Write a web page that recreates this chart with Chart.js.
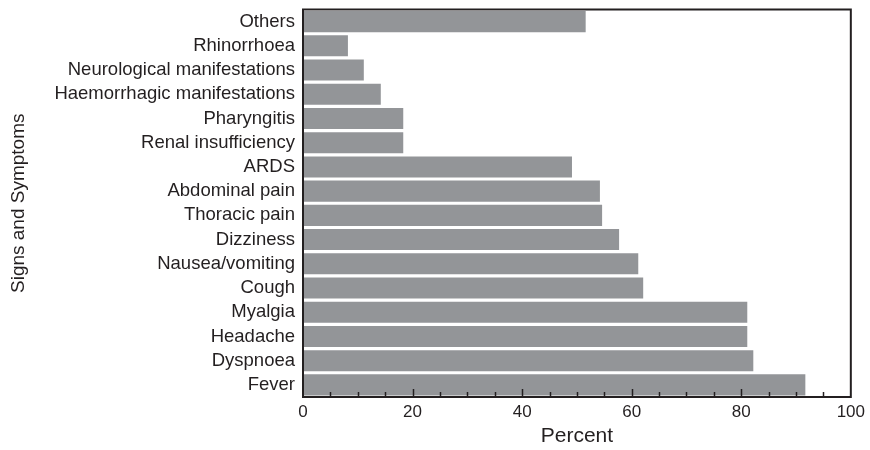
<!DOCTYPE html>
<html>
<head>
<meta charset="utf-8">
<style>
  html, body { margin: 0; padding: 0; background: #fff; }
  #wrap { width: 870px; height: 450px; }
</style>
<script src="https://cdn.jsdelivr.net/npm/chart.js@4/dist/chart.umd.min.js"></script>
</head>
<body>
<div id="wrap"><canvas id="symptomChart" width="870" height="450"></canvas></div>
<script>
// --------------- Data -----------------
const symptoms = [
  "Others", "Rhinorrhoea", "Neurological manifestations", "Haemorrhagic manifestations",
  "Pharyngitis", "Renal insufficiency", "ARDS", "Abdominal pain", "Thoracic pain",
  "Dizziness", "Nausea/vomiting", "Cough", "Myalgia", "Headache", "Dyspnoea", "Fever"
];
const percents = [51.6, 8.2, 11.1, 14.2, 18.3, 18.3, 49.1, 54.2, 54.6, 57.7, 61.2, 62.1, 81.1, 81.1, 82.2, 91.7];
const percentTicks = [0, 20, 40, 60, 80, 100];

const FONT = "'Liberation Sans', Arial, sans-serif";
const INK = "#231f20";

// --------------- Frame + inward ticks -----------------
const framePlugin = {
  id: "frame",
  afterDraw(chart) {
    const { ctx, chartArea: a, scales } = chart;
    const x = scales.x;
    ctx.save();
    ctx.strokeStyle = INK;
    // tick marks every 5, longer at major ticks
    ctx.lineWidth = 1.5;
    for (let v = 5; v < 100; v += 5) {
      const px = Math.round(x.getPixelForValue(v)) + 0.5;
      const len = percentTicks.includes(v) ? 8 : 5;
      ctx.beginPath();
      ctx.moveTo(px, a.bottom);
      ctx.lineTo(px, a.bottom - len);
      ctx.stroke();
    }
    ctx.lineWidth = 2;
    ctx.strokeRect(a.left, a.top, a.right - a.left, a.bottom - a.top);
    ctx.restore();
  }
};

// --------------- Chart -----------------
const ctx = document.getElementById("symptomChart").getContext("2d");
new Chart(ctx, {
  type: "bar",
  data: {
    labels: symptoms,
    datasets: [{
      data: percents,
      backgroundColor: "#939598",
      borderWidth: 0,
      barPercentage: 0.87,
      categoryPercentage: 1.0
    }]
  },
  options: {
    indexAxis: "y",
    responsive: false,
    animation: false,
    layout: { padding: { top: 9.5, right: 19, left: 0, bottom: 0 } },
    plugins: { legend: { display: false }, tooltip: { enabled: false } },
    scales: {
      x: {
        min: 0,
        max: 100,
        afterBuildTicks: (scale) => { scale.ticks = percentTicks.map(v => ({ value: v })); },
        grid: { display: false, drawTicks: false },
        border: { display: false },
        ticks: { color: INK, font: { family: FONT, size: 17 }, padding: 5, maxRotation: 0 },
        title: {
          display: true,
          text: "Percent",
          color: INK,
          font: { family: FONT, size: 21 },
          padding: { top: 0, bottom: 1 }
        },
        afterFit: (scale) => { scale.height = 53; }
      },
      y: {
        grid: { display: false, drawTicks: false },
        border: { display: false },
        ticks: { color: INK, font: { family: FONT, size: 18.5 }, padding: 8, autoSkip: false },
        title: {
          display: true,
          text: "Signs and Symptoms",
          color: INK,
          font: { family: FONT, size: 19 },
          padding: { top: 7, bottom: 0 }
        },
        afterFit: (scale) => {
          scale.width = 303;
          scale.paddingTop = 0;
          scale.paddingBottom = 0;
        }
      }
    }
  },
  plugins: [framePlugin]
});
</script>
</body>
</html>
